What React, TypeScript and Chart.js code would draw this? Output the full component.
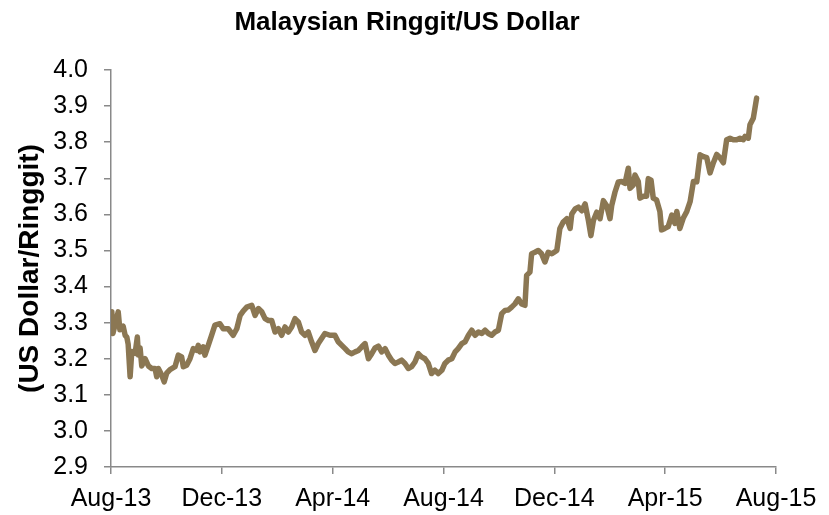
import React, { useEffect, useRef } from "react";
import { Chart, registerables } from "chart.js";

Chart.register(...registerables);

const chartTitle = "Malaysian Ringgit/US Dollar";
const yAxisTitle = "(US Dollar/Ringgit)";
const xTickLabels = ["Aug-13", "Dec-13", "Apr-14", "Aug-14", "Dec-14", "Apr-15", "Aug-15"];

// months elapsed since 1 Aug 2013
const monthsSinceStart = [
  0, 0.03, 0.07, 0.26, 0.32, 0.44, 0.51, 0.57, 0.62, 0.69, 0.75, 0.87, 0.95, 0.99, 1.05, 1.11, 1.23, 1.35, 1.47, 1.59,
  1.65, 1.71, 1.83, 1.92, 2.01, 2.13, 2.31, 2.43, 2.55, 2.61, 2.73, 2.85, 2.97, 3.09, 3.15, 3.21, 3.33, 3.39, 3.51, 3.63,
  3.75, 3.93, 4.05, 4.23, 4.41, 4.54, 4.66, 4.77, 4.9, 5.08, 5.2, 5.32, 5.44, 5.56, 5.68, 5.8, 5.92, 6.04, 6.16, 6.28,
  6.4, 6.52, 6.64, 6.76, 6.88, 7.0, 7.12, 7.24, 7.36, 7.48, 7.6, 7.72, 7.9, 8.08, 8.2, 8.33, 8.45, 8.56, 8.69, 8.81,
  8.93, 9.05, 9.17, 9.29, 9.41, 9.53, 9.65, 9.77, 9.89, 10.01, 10.13, 10.25, 10.37, 10.49, 10.61, 10.73, 10.85, 10.97, 11.09, 11.21,
  11.33, 11.45, 11.57, 11.69, 11.81, 11.94, 12.05, 12.17, 12.3, 12.42, 12.53, 12.66, 12.78, 12.9, 13.02, 13.14, 13.26, 13.38, 13.5, 13.62,
  13.74, 13.86, 13.98, 14.1, 14.22, 14.34, 14.46, 14.58, 14.7, 14.82, 14.94, 15.0, 15.12, 15.18, 15.3, 15.42, 15.54, 15.66, 15.78, 15.91,
  16.09, 16.2, 16.32, 16.45, 16.57, 16.63, 16.75, 16.87, 16.99, 17.11, 17.23, 17.32, 17.41, 17.53, 17.65, 17.77, 17.89, 18.01, 18.07, 18.19,
  18.31, 18.43, 18.55, 18.67, 18.73, 18.85, 18.91, 19.03, 19.09, 19.21, 19.33, 19.39, 19.49, 19.57, 19.69, 19.81, 19.87, 19.99, 20.11, 20.24,
  20.35, 20.42, 20.53, 20.65, 20.78, 20.9, 21.02, 21.14, 21.26, 21.38, 21.5, 21.62, 21.74, 21.86, 21.98, 22.1, 22.22, 22.34, 22.46, 22.58,
  22.7, 22.82, 22.88, 23.0, 23.06, 23.18, 23.3,
];

const ringgitPerDollar = [
  3.3, 3.33, 3.27, 3.33, 3.28, 3.29, 3.265, 3.26, 3.24, 3.15, 3.22, 3.215, 3.26, 3.21, 3.23, 3.18, 3.2, 3.18, 3.173, 3.173,
  3.15, 3.173, 3.155, 3.136, 3.16, 3.17, 3.178, 3.21, 3.205, 3.178, 3.182, 3.2, 3.228, 3.223, 3.237, 3.219, 3.233, 3.21, 3.237, 3.265,
  3.293, 3.297, 3.283, 3.283, 3.265, 3.283, 3.32, 3.332, 3.343, 3.348, 3.32, 3.339, 3.33, 3.311, 3.306, 3.306, 3.274, 3.283, 3.265, 3.288,
  3.274, 3.288, 3.311, 3.302, 3.274, 3.265, 3.274, 3.247, 3.223, 3.242, 3.256, 3.27, 3.265, 3.265, 3.247, 3.237, 3.228, 3.219, 3.214, 3.219,
  3.223, 3.233, 3.242, 3.2, 3.214, 3.23, 3.235, 3.219, 3.228, 3.21, 3.196, 3.187, 3.191, 3.196, 3.187, 3.173, 3.178, 3.191, 3.214, 3.205,
  3.2, 3.187, 3.159, 3.168, 3.159, 3.168, 3.187, 3.196, 3.2, 3.219, 3.228, 3.242, 3.247, 3.265, 3.279, 3.265, 3.274, 3.27, 3.279, 3.27,
  3.265, 3.274, 3.279, 3.325, 3.334, 3.335, 3.343, 3.352, 3.366, 3.352, 3.348, 3.431, 3.44, 3.491, 3.495, 3.5, 3.491, 3.468, 3.495, 3.491,
  3.5, 3.561, 3.579, 3.588, 3.561, 3.601, 3.615, 3.62, 3.61, 3.629, 3.583, 3.541, 3.583, 3.606, 3.588, 3.638, 3.624, 3.588, 3.624, 3.662,
  3.69, 3.691, 3.686, 3.728, 3.672, 3.681, 3.709, 3.691, 3.645, 3.65, 3.65, 3.699, 3.695, 3.645, 3.64, 3.608, 3.557, 3.561, 3.566, 3.598,
  3.575, 3.608, 3.561, 3.589, 3.608, 3.635, 3.691, 3.69, 3.765, 3.76, 3.757, 3.715, 3.743, 3.766, 3.757, 3.743, 3.807, 3.811, 3.807, 3.807,
  3.811, 3.807, 3.816, 3.811, 3.848, 3.866, 3.922,
];

const FONT = "'Liberation Sans', Arial, sans-serif";

const titlePlugin = {
  id: "customTitle",
  afterDraw(chart: any) {
    const ctx = chart.ctx;
    ctx.save();
    ctx.font = `bold 26px ${FONT}`;
    ctx.fillStyle = "#000";
    ctx.textAlign = "center";
    ctx.textBaseline = "middle";
    ctx.fillText(chartTitle, chart.width * 0.491, 23);
    ctx.restore();
  },
};

export default function App() {
  const canvasRef = useRef<HTMLCanvasElement | null>(null);

  useEffect(() => {
    if (!canvasRef.current) return;
    const points = monthsSinceStart.map((m, i) => ({ x: m, y: ringgitPerDollar[i] }));
    const chart = new Chart(canvasRef.current, {
      type: "line",
      data: {
        datasets: [
          {
            data: points,
            borderColor: "#8B7753",
            borderWidth: 5.5,
            pointRadius: 0,
            tension: 0,
            borderJoinStyle: "round",
            borderCapStyle: "round",
            fill: false,
          },
        ],
      },
      options: {
        responsive: false,
        animation: false,
        maintainAspectRatio: false,
        layout: { padding: { top: 70, right: 53, left: 0, bottom: 0 } },
        plugins: { legend: { display: false }, tooltip: { enabled: false }, title: { display: false } },
        scales: {
          x: {
            type: "linear",
            min: 0,
            max: 24,
            afterBuildTicks: (scale: any) => {
              scale.ticks = xTickLabels.map((_, i) => ({ value: i * 4 }));
            },
            afterFit: (scale: any) => {
              scale.height = 48;
            },
            ticks: {
              autoSkip: false,
              maxRotation: 0,
              padding: 10,
              color: "#000",
              font: { family: FONT, size: 25 },
              callback: (v: any) => xTickLabels[Math.round(Number(v) / 4)] ?? "",
            },
            grid: { display: true, drawOnChartArea: false, drawTicks: true, tickLength: 7, color: "#898989", lineWidth: 1.5 },
            border: { display: true, color: "#898989", width: 1.5 },
          },
          y: {
            min: 2.9,
            max: 4.0,
            afterFit: (scale: any) => {
              scale.width = 111;
            },
            ticks: {
              stepSize: 0.1,
              padding: 16,
              color: "#000",
              font: { family: FONT, size: 25 },
              callback: (v: any) => Number(v).toFixed(1),
            },
            title: {
              display: true,
              text: yAxisTitle,
              color: "#000",
              font: { family: FONT, size: 28, weight: "bold" },
              padding: { top: 13, bottom: 0 },
            },
            grid: { display: true, drawOnChartArea: false, drawTicks: true, tickLength: 7, color: "#898989", lineWidth: 1.5 },
            border: { display: true, color: "#898989", width: 1.5 },
          },
        },
      },
      plugins: [titlePlugin],
    });
    return () => chart.destroy();
  }, []);

  return (
    <div style={{ position: "fixed", left: 0, top: 0, width: 829, height: 515, background: "#fff" }}>
      <canvas ref={canvasRef} width={829} height={515} style={{ width: 829, height: 515 }} />
    </div>
  );
}
